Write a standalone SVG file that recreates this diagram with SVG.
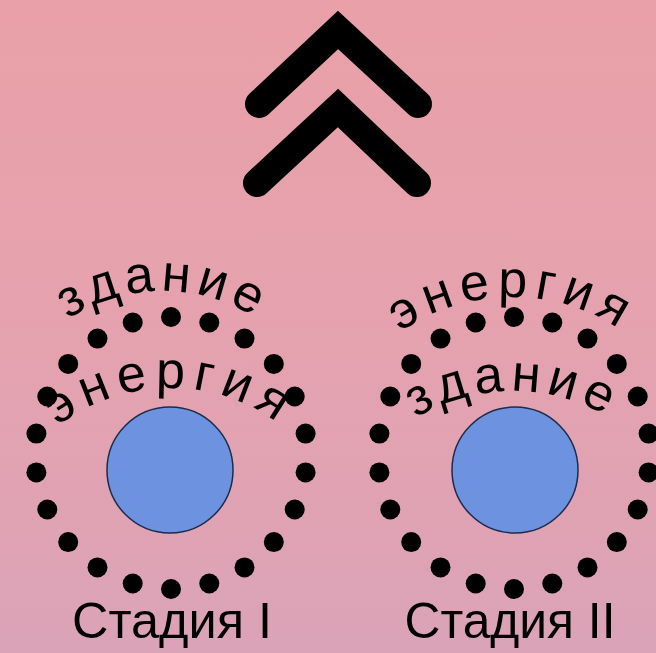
<svg xmlns="http://www.w3.org/2000/svg" xmlns:xlink="http://www.w3.org/1999/xlink" width="656" height="653" viewBox="0 0 656 653">
  <defs>
    <linearGradient id="bg" x1="0" y1="0" x2="0" y2="1">
      <stop offset="0" stop-color="#e9a0a8"/>
      <stop offset="0.5" stop-color="#e5a2ae"/>
      <stop offset="1" stop-color="#dba3b8"/>
    </linearGradient>
    <path id="arcL1" d="M -10 464 A 173 173 0 0 1 336 464"/>
    <path id="arcL2" d="M -13 571 A 183 183 0 0 1 353 571"/>
    <path id="arcR1" d="M 317 492 A 195 195 0 0 1 707 492"/>
    <path id="arcR2" d="M 325 579 A 188 188 0 0 1 701 579"/>
    <circle id="dot" r="10" fill="#000"/>
  </defs>
  <style>
    .chev { fill: none; stroke: #000; stroke-width: 28; stroke-linecap: round; stroke-linejoin: miter; }
    .core { fill: #6c92e0; stroke: #1c2b4a; stroke-width: 1.5; }
    .arc { font-family: "Liberation Sans", Arial, sans-serif; font-size: 52px; fill: #000; }
    .label { font-family: "Liberation Sans", Arial, sans-serif; font-size: 50px; fill: #000; text-anchor: middle; }
  </style>
  <rect width="656" height="653" fill="url(#bg)"/>

  <g id="connectors">
    <polyline class="chev" points="259,104 338,30 418,104"/>
    <polyline class="chev" points="257,183 338,108 417,183"/>
  </g>

  <g id="stage1">
    <circle class="core" cx="170" cy="470" r="63"/>
    <g id="ring1" transform="translate(171,453)">
      <use href="#dot" x="0" y="-136"/>
      <use href="#dot" x="38.3" y="-130.5"/>
      <use href="#dot" x="73.5" y="-114.4"/>
      <use href="#dot" x="102.8" y="-89.1"/>
      <use href="#dot" x="123.7" y="-56.5"/>
      <use href="#dot" x="134.6" y="-19.4"/>
      <use href="#dot" x="134.6" y="19.4"/>
      <use href="#dot" x="123.7" y="56.5"/>
      <use href="#dot" x="102.8" y="89.1"/>
      <use href="#dot" x="73.5" y="114.4"/>
      <use href="#dot" x="38.3" y="130.5"/>
      <use href="#dot" x="0" y="136"/>
      <use href="#dot" x="-38.3" y="130.5"/>
      <use href="#dot" x="-73.5" y="114.4"/>
      <use href="#dot" x="-102.8" y="89.1"/>
      <use href="#dot" x="-123.7" y="56.5"/>
      <use href="#dot" x="-134.6" y="19.4"/>
      <use href="#dot" x="-134.6" y="-19.4"/>
      <use href="#dot" x="-123.7" y="-56.5"/>
      <use href="#dot" x="-102.8" y="-89.1"/>
      <use href="#dot" x="-73.5" y="-114.4"/>
      <use href="#dot" x="-38.3" y="-130.5"/>
    </g>
    <text class="arc" letter-spacing="5.5"><textPath href="#arcL1" startOffset="50%" text-anchor="middle">здание</textPath></text>
    <text class="arc" letter-spacing="7.5"><textPath href="#arcL2" startOffset="50%" text-anchor="middle">энергия</textPath></text>
    <text class="label" x="172" y="638" textLength="200" lengthAdjust="spacingAndGlyphs">Стадия I</text>
  </g>

  <g id="stage2">
    <circle class="core" cx="515" cy="470" r="63"/>
    <g id="ring2" transform="translate(514,453)">
      <use href="#dot" x="0" y="-136"/>
      <use href="#dot" x="38.3" y="-130.5"/>
      <use href="#dot" x="73.5" y="-114.4"/>
      <use href="#dot" x="102.8" y="-89.1"/>
      <use href="#dot" x="123.7" y="-56.5"/>
      <use href="#dot" x="134.6" y="-19.4"/>
      <use href="#dot" x="134.6" y="19.4"/>
      <use href="#dot" x="123.7" y="56.5"/>
      <use href="#dot" x="102.8" y="89.1"/>
      <use href="#dot" x="73.5" y="114.4"/>
      <use href="#dot" x="38.3" y="130.5"/>
      <use href="#dot" x="0" y="136"/>
      <use href="#dot" x="-38.3" y="130.5"/>
      <use href="#dot" x="-73.5" y="114.4"/>
      <use href="#dot" x="-102.8" y="89.1"/>
      <use href="#dot" x="-123.7" y="56.5"/>
      <use href="#dot" x="-134.6" y="19.4"/>
      <use href="#dot" x="-134.6" y="-19.4"/>
      <use href="#dot" x="-123.7" y="-56.5"/>
      <use href="#dot" x="-102.8" y="-89.1"/>
      <use href="#dot" x="-73.5" y="-114.4"/>
      <use href="#dot" x="-38.3" y="-130.5"/>
    </g>
    <text class="arc" letter-spacing="7"><textPath href="#arcR1" startOffset="50%" text-anchor="middle">энергия</textPath></text>
    <text class="arc" letter-spacing="6"><textPath href="#arcR2" startOffset="50%" text-anchor="middle">здание</textPath></text>
    <text class="label" x="510" y="638" textLength="211" lengthAdjust="spacingAndGlyphs">Стадия II</text>
  </g>
</svg>
